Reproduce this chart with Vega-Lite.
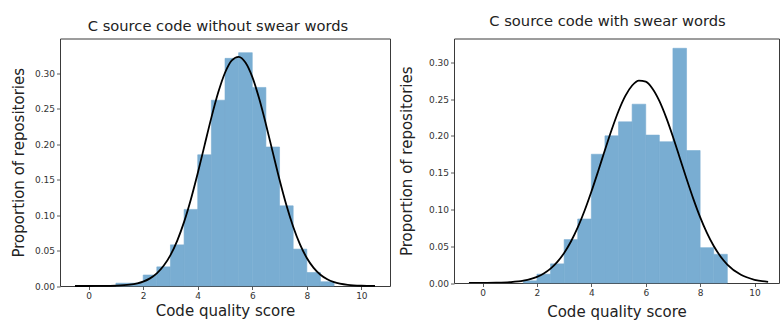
{
  "$schema": "https://vega.github.io/schema/vega-lite/v6.json",
  "padding": {"left": 10, "top": 12.5, "right": 0, "bottom": 0},
  "spacing": 7,
  "config": {
    "font": "DejaVu Sans",
    "view": {"stroke": "#3a3a3a", "strokeWidth": 1},
    "axis": {
      "domain": false, "grid": false,
      "tickColor": "#333", "tickSize": 3.5, "tickWidth": 0.8,
      "labelFont": "DejaVu Sans", "labelFontSize": 9, "labelColor": "#333", "labelPadding": 2,
      "titleFont": "DejaVu Sans", "titleFontSize": 15, "titleFontWeight": "normal", "titleColor": "#222"
    },
    "title": {"font": "DejaVu Sans", "fontSize": 14.7, "fontWeight": "normal", "color": "#222"}
  },
  "datasets": {
    "leftBars": [
      {"x0": 1.0, "x1": 1.5, "y": 0.004}, {"x0": 1.5, "x1": 2.0, "y": 0.004},
      {"x0": 2.0, "x1": 2.5, "y": 0.0155}, {"x0": 2.5, "x1": 3.0, "y": 0.027},
      {"x0": 3.0, "x1": 3.5, "y": 0.058}, {"x0": 3.5, "x1": 4.0, "y": 0.108},
      {"x0": 4.0, "x1": 4.5, "y": 0.185}, {"x0": 4.5, "x1": 5.0, "y": 0.262},
      {"x0": 5.0, "x1": 5.5, "y": 0.321}, {"x0": 5.5, "x1": 6.0, "y": 0.329},
      {"x0": 6.0, "x1": 6.5, "y": 0.280}, {"x0": 6.5, "x1": 7.0, "y": 0.196},
      {"x0": 7.0, "x1": 7.5, "y": 0.113}, {"x0": 7.5, "x1": 8.0, "y": 0.052},
      {"x0": 8.0, "x1": 8.5, "y": 0.019}, {"x0": 8.5, "x1": 9.0, "y": 0.006}
    ],
    "leftCurve": [
      {"x": -0.5, "y": 0.0}, {"x": 0.0, "y": 0.00002}, {"x": 0.5, "y": 0.0001},
      {"x": 1.0, "y": 0.00046}, {"x": 1.5, "y": 0.00183}, {"x": 2.0, "y": 0.0062},
      {"x": 2.25, "y": 0.01074}, {"x": 2.5, "y": 0.01785}, {"x": 2.75, "y": 0.02848},
      {"x": 3.0, "y": 0.04362}, {"x": 3.25, "y": 0.0641}, {"x": 3.5, "y": 0.0904},
      {"x": 3.75, "y": 0.1224}, {"x": 4.0, "y": 0.159}, {"x": 4.25, "y": 0.1983},
      {"x": 4.5, "y": 0.2374}, {"x": 4.75, "y": 0.2727}, {"x": 5.0, "y": 0.3007},
      {"x": 5.25, "y": 0.3182}, {"x": 5.5, "y": 0.3232}, {"x": 5.75, "y": 0.3151},
      {"x": 6.0, "y": 0.2948}, {"x": 6.25, "y": 0.2647}, {"x": 6.5, "y": 0.2282},
      {"x": 6.75, "y": 0.1888}, {"x": 7.0, "y": 0.1499}, {"x": 7.25, "y": 0.1142},
      {"x": 7.5, "y": 0.0836}, {"x": 7.75, "y": 0.0587}, {"x": 8.0, "y": 0.0395},
      {"x": 8.25, "y": 0.0256}, {"x": 8.5, "y": 0.01588}, {"x": 8.75, "y": 0.00945},
      {"x": 9.0, "y": 0.0054}, {"x": 9.5, "y": 0.00156}, {"x": 10.0, "y": 0.00038},
      {"x": 10.5, "y": 0.00008}
    ],
    "rightBars": [
      {"x0": 1.5, "x1": 2.0, "y": 0.003}, {"x0": 2.0, "x1": 2.5, "y": 0.012},
      {"x0": 2.5, "x1": 3.0, "y": 0.026}, {"x0": 3.0, "x1": 3.5, "y": 0.059},
      {"x0": 3.5, "x1": 4.0, "y": 0.087}, {"x0": 4.0, "x1": 4.5, "y": 0.175},
      {"x0": 4.5, "x1": 5.0, "y": 0.2}, {"x0": 5.0, "x1": 5.5, "y": 0.219},
      {"x0": 5.5, "x1": 6.0, "y": 0.243}, {"x0": 6.0, "x1": 6.5, "y": 0.201},
      {"x0": 6.5, "x1": 7.0, "y": 0.192}, {"x0": 7.0, "x1": 7.5, "y": 0.319},
      {"x0": 7.5, "x1": 8.0, "y": 0.18}, {"x0": 8.0, "x1": 8.5, "y": 0.048},
      {"x0": 8.5, "x1": 9.0, "y": 0.039}
    ],
    "rightCurve": [
      {"x": -0.5, "y": 0.00002}, {"x": 0.0, "y": 0.00008}, {"x": 0.5, "y": 0.00031},
      {"x": 1.0, "y": 0.00106}, {"x": 1.5, "y": 0.00315}, {"x": 2.0, "y": 0.00834},
      {"x": 2.25, "y": 0.01296}, {"x": 2.5, "y": 0.01957}, {"x": 2.75, "y": 0.02868},
      {"x": 3.0, "y": 0.0408}, {"x": 3.25, "y": 0.05634}, {"x": 3.5, "y": 0.0755},
      {"x": 3.75, "y": 0.0982}, {"x": 4.0, "y": 0.124}, {"x": 4.25, "y": 0.1519},
      {"x": 4.5, "y": 0.1807}, {"x": 4.75, "y": 0.2086}, {"x": 5.0, "y": 0.2338},
      {"x": 5.25, "y": 0.2543}, {"x": 5.5, "y": 0.2684}, {"x": 5.75, "y": 0.2751},
      {"x": 6.0, "y": 0.2736}, {"x": 6.25, "y": 0.2641}, {"x": 6.5, "y": 0.2475},
      {"x": 6.75, "y": 0.2251}, {"x": 7.0, "y": 0.1988}, {"x": 7.25, "y": 0.1703},
      {"x": 7.5, "y": 0.1417}, {"x": 7.75, "y": 0.1144}, {"x": 8.0, "y": 0.0896},
      {"x": 8.25, "y": 0.0682}, {"x": 8.5, "y": 0.0503}, {"x": 8.75, "y": 0.0361},
      {"x": 9.0, "y": 0.0251}, {"x": 9.5, "y": 0.0111}, {"x": 10.0, "y": 0.00436},
      {"x": 10.5, "y": 0.00152}
    ]
  },
  "hconcat": [
    {
      "title": {"text": "C source code without swear words", "dx": -7, "offset": 5},
      "width": 330, "height": 247.5,
      "layer": [
        {
          "data": {"name": "leftBars"},
          "mark": {"type": "rect", "color": "#79add2", "stroke": "#79add2", "strokeWidth": 0.6},
          "encoding": {
            "x": {"field": "x0", "type": "quantitative",
                  "scale": {"domain": [-1.05, 11.05], "nice": false, "zero": false},
                  "axis": {"values": [0, 2, 4, 6, 8, 10], "title": "Code quality score", "titlePadding": 3}},
            "x2": {"field": "x1"},
            "y": {"field": "y", "type": "quantitative",
                  "scale": {"domain": [0, 0.349], "nice": false},
                  "axis": {"values": [0, 0.05, 0.1, 0.15, 0.2, 0.25, 0.3], "format": ".2f", "title": "Proportion of repositories", "titlePadding": 8}},
            "y2": {"datum": 0}
          }
        },
        {
          "data": {"name": "leftCurve"},
          "mark": {"type": "line", "color": "#000", "strokeWidth": 1.8, "interpolate": "monotone"},
          "encoding": {
            "x": {"field": "x", "type": "quantitative"},
            "y": {"field": "y", "type": "quantitative"}
          }
        }
      ]
    },
    {
      "title": {"text": "C source code with swear words", "dx": -9, "offset": 10},
      "width": 325, "height": 244.5,
      "layer": [
        {
          "data": {"name": "rightBars"},
          "mark": {"type": "rect", "color": "#79add2", "stroke": "#79add2", "strokeWidth": 0.6},
          "encoding": {
            "x": {"field": "x0", "type": "quantitative",
                  "scale": {"domain": [-1.05, 10.9], "nice": false, "zero": false},
                  "axis": {"values": [0, 2, 4, 6, 8, 10], "title": "Code quality score", "titlePadding": 7}},
            "x2": {"field": "x1"},
            "y": {"field": "y", "type": "quantitative",
                  "scale": {"domain": [0, 0.3323], "nice": false},
                  "axis": {"values": [0, 0.05, 0.1, 0.15, 0.2, 0.25, 0.3], "format": ".2f", "title": "Proportion of repositories", "titlePadding": 14}},
            "y2": {"datum": 0}
          }
        },
        {
          "data": {"name": "rightCurve"},
          "mark": {"type": "line", "color": "#000", "strokeWidth": 1.8, "interpolate": "monotone", "clip": true},
          "encoding": {
            "x": {"field": "x", "type": "quantitative"},
            "y": {"field": "y", "type": "quantitative"}
          }
        }
      ]
    }
  ]
}
